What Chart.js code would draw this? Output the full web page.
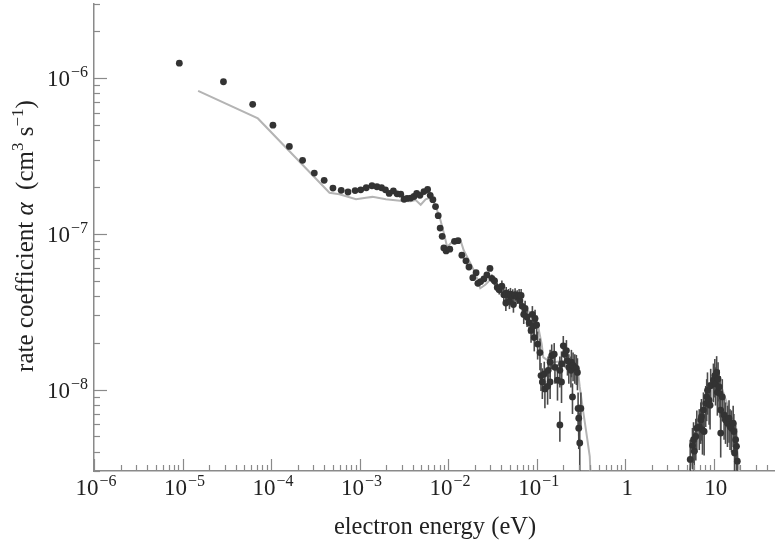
<!DOCTYPE html>
<html>
<head>
    <title>Rate coefficient vs electron energy</title>
    <script src="https://cdn.jsdelivr.net/npm/chart.js"></script>
    <style>
        body { margin: 0; background: #fff; }
    </style>
</head>
<body>
    <div style="width: 778px; height: 541px; position: relative;">
        <canvas id="myChart"></canvas>
    </div>
    <script>
        // measured points: electron energy (eV), rate coefficient (cm3 s-1), error
        const energy = [
            9.2e-6, 2.9e-5, 6.2e-5, 1.05e-4, 1.61e-4, 2.27e-4, 3.08e-4, 3.98e-4, 5.0e-4, 6.2e-4,
            7.4e-4, 8.9e-4, 1.03e-3, 1.19e-3, 1.38e-3, 1.57e-3, 1.77e-3, 1.96e-3, 2.16e-3, 2.41e-3,
            2.65e-3, 2.92e-3, 3.18e-3, 3.44e-3, 3.78e-3, 4.12e-3, 4.42e-3, 4.81e-3, 5.33e-3, 5.87e-3,
            6.28e-3, 6.73e-3, 7.21e-3, 7.73e-3, 8.13e-3, 8.57e-3, 8.95e-3, 9.5e-3, 1.045e-2, 1.18e-2,
            1.295e-2, 1.43e-2, 1.59e-2, 1.72e-2, 1.90e-2, 2.07e-2, 2.17e-2, 2.33e-2, 2.54e-2, 2.74e-2,
            2.97e-2, 3.12e-2, 3.35e-2, 3.59e-2, 3.78e-2, 4.05e-2, 4.26e-2, 4.49e-2, 4.53e-2, 4.81e-2,
            4.93e-2, 5.06e-2, 5.37e-2, 5.47e-2, 5.71e-2, 6.03e-2, 6.34e-2, 6.44e-2, 6.68e-2, 6.9e-2,
            7.15e-2, 7.41e-2, 7.8e-2, 8.22e-2, 8.65e-2, 8.95e-2, 9.18e-2, 9.4e-2, 9.6e-2, 0.100,
            0.1026, 0.109, 0.112, 0.116, 0.122, 0.124, 0.133, 0.135, 0.142, 0.142,
            0.148, 0.158, 0.161, 0.172, 0.183, 0.183, 0.191, 0.191, 0.200, 0.208,
            0.217, 0.223, 0.231, 0.244, 0.247, 0.254, 0.258, 0.270, 0.281, 0.289,
            0.294, 0.299, 0.299, 0.307, 0.316,
            5.43, 5.76, 5.92, 6.03, 6.28, 6.45, 6.87, 7.15, 7.28, 7.47,
            7.66, 7.80, 8.13, 8.34, 8.51, 8.87, 9.10, 9.25, 9.93, 10.3,
            10.5, 10.8, 11.0, 11.2, 11.5, 11.8, 12.0, 12.0, 12.5, 13.1,
            13.6, 14.3, 14.9, 15.3, 15.9, 16.6, 16.9, 17.2, 17.7, 18.1, 18.5
        ];
        const rate = [
            1.25e-6, 9.5e-7, 6.8e-7, 5.0e-7, 3.65e-7, 2.97e-7, 2.46e-7, 2.21e-7, 1.97e-7, 1.905e-7,
            1.86e-7, 1.9e-7, 1.92e-7, 1.98e-7, 2.04e-7, 2.01e-7, 1.98e-7, 1.92e-7, 1.82e-7, 1.89e-7,
            1.81e-7, 1.80e-7, 1.67e-7, 1.69e-7, 1.70e-7, 1.74e-7, 1.82e-7, 1.77e-7, 1.87e-7, 1.93e-7,
            1.77e-7, 1.66e-7, 1.50e-7, 1.31e-7, 1.09e-7, 9.65e-8, 8.13e-8, 7.78e-8, 7.98e-8, 8.96e-8,
            9.05e-8, 7.3e-8, 6.72e-8, 6.13e-8, 5.24e-8, 5.64e-8, 4.82e-8, 4.94e-8, 5.14e-8, 5.45e-8,
            6.0e-8, 5.19e-8, 4.99e-8, 4.53e-8, 4.38e-8, 4.62e-8, 4.07e-8, 3.6e-8, 4.17e-8, 4.03e-8,
            3.69e-8, 4.1e-8, 4.01e-8, 3.52e-8, 4.07e-8, 3.95e-8, 4.03e-8, 3.73e-8, 4.03e-8, 3.43e-8,
            3.04e-8, 3.32e-8, 2.92e-8, 2.69e-8, 2.4e-8, 3.04e-8, 2.56e-8, 2.16e-8, 2.86e-8, 2.6e-8,
            1.96e-8, 1.73e-8, 1.23e-8, 1.12e-8, 1.26e-8, 1.01e-8, 1.05e-8, 1.33e-8, 1.12e-8, 1.5e-8,
            1.65e-8, 1.69e-8, 1.39e-8, 1.15e-8, 1.33e-8, 5.93e-9, 1.46e-8, 1.12e-8, 1.91e-8, 1.69e-8,
            1.78e-8, 1.53e-8, 1.39e-8, 1.33e-8, 1.5e-8, 8.97e-9, 1.43e-8, 1.39e-8, 1.37e-8, 1.29e-8,
            7.57e-9, 6.55e-9, 5.65e-9, 4.54e-9, 7.57e-9,
            3.56e-9, 4.37e-9, 4.77e-9, 4.02e-9, 5.0e-9, 5.65e-9, 5.79e-9, 6.38e-9, 6.7e-9, 5.52e-9,
            7.39e-9, 5.38e-9, 8.15e-9, 8.97e-9, 9.9e-9, 8.55e-9, 7.94e-9, 1.06e-8, 1.15e-8, 1.23e-8,
            1.09e-8, 1.29e-8, 9.6e-9, 1.17e-8, 1.04e-8, 9.43e-9, 7.39e-9, 5.26e-9, 8.97e-9, 6.87e-9,
            6.38e-9, 6.08e-9, 6.55e-9, 5.79e-9, 5.65e-9, 6.08e-9, 5.38e-9, 3.92e-9, 4.77e-9, 4.32e-9, 3.47e-9
        ];
        const rateErr = [
            0, 0, 0, 0, 0, 0, 0, 0, 0, 0,
            0, 0, 0, 0, 0, 0, 0, 0, 0, 0,
            0, 0, 0, 0, 0, 0, 0, 0, 0, 0,
            0, 0, 0, 0, 0, 0, 0, 0, 0, 0,
            0, 0, 0, 1.5e-9, 2e-9, 2e-9, 2e-9, 2e-9, 2e-9, 2e-9,
            2e-9, 3e-9, 3e-9, 3e-9, 3e-9, 4e-9, 4e-9, 4e-9, 4e-9, 4e-9,
            4e-9, 4e-9, 4e-9, 4e-9, 4e-9, 4e-9, 4e-9, 4e-9, 4e-9, 4e-9,
            4e-9, 4e-9, 4e-9, 4e-9, 4e-9, 4e-9, 4e-9, 4e-9, 4e-9, 4e-9,
            4e-9, 4e-9, 2.5e-9, 2.5e-9, 2.5e-9, 2.5e-9, 2.5e-9, 3e-9, 2.5e-9, 3e-9,
            3e-9, 3e-9, 3e-9, 3e-9, 3e-9, 1.3e-9, 3e-9, 3e-9, 3e-9, 3e-9,
            3e-9, 3e-9, 3e-9, 3e-9, 3e-9, 2e-9, 3e-9, 3e-9, 3e-9, 3e-9,
            2e-9, 1.5e-9, 1.5e-9, 2.5e-9, 2e-9,
            1.2e-9, 1.3e-9, 1.4e-9, 1.3e-9, 1.5e-9, 1.7e-9, 1.7e-9, 1.9e-9, 2e-9, 1.7e-9,
            2.2e-9, 1.6e-9, 2.4e-9, 2.7e-9, 3e-9, 2.6e-9, 2.4e-9, 3e-9, 3.2e-9, 3.4e-9,
            3e-9, 3.5e-9, 2.8e-9, 3.3e-9, 3e-9, 2.8e-9, 2.2e-9, 1.6e-9, 2.7e-9, 2.1e-9,
            1.9e-9, 1.8e-9, 2e-9, 1.7e-9, 1.7e-9, 1.8e-9, 1.6e-9, 1.2e-9, 1.4e-9, 1.3e-9, 1.1e-9
        ];

        // calculated curve (grey), two separate branches
        const modelLowEnergy = [
            1.5e-5, 7.1e-5, 4.57e-4, 5.92e-4, 9.12e-4, 1.18e-3, 1.40e-3, 1.98e-3, 3.04e-3, 3.78e-3,
            4.30e-3, 4.90e-3, 5.57e-3, 6.34e-3, 7.21e-3, 8.22e-3, 9.18e-3, 9.75e-3, 1.16e-2, 1.38e-2,
            1.50e-2, 1.79e-2, 2.03e-2, 2.31e-2, 2.63e-2, 2.99e-2, 3.26e-2, 3.88e-2, 4.81e-2, 6.22e-2,
            7.73e-2, 9.18e-2, 0.1045, 0.114, 0.119, 0.146, 0.200, 0.258, 0.294, 0.307,
            0.334, 0.365, 0.398, 0.410
        ];
        const modelLowRate = [
            8.3e-7, 5.52e-7, 1.84e-7, 1.80e-7, 1.67e-7, 1.71e-7, 1.73e-7, 1.67e-7, 1.63e-7, 1.62e-7,
            1.65e-7, 1.54e-7, 1.67e-7, 1.71e-7, 1.52e-7, 1.22e-7, 9.55e-8, 8.24e-8, 9.1e-8, 9.1e-8,
            7.85e-8, 6.46e-8, 5.58e-8, 4.48e-8, 4.71e-8, 5.07e-8, 4.82e-8, 4.27e-8, 3.97e-8, 3.69e-8,
            3.27e-8, 2.96e-8, 2.5e-8, 1.96e-8, 1.61e-8, 1.49e-8, 1.53e-8, 1.43e-8, 1.29e-8, 1.04e-8,
            7.39e-9, 5.26e-9, 3.73e-9, 2.5e-9
        ];
        const modelHighEnergy = [5.2, 6.6, 8.5, 10.2, 11.5, 14.3, 17.7, 19.8];
        const modelHighRate = [2.8e-9, 5.1e-9, 9.2e-9, 1.23e-8, 1.15e-8, 8.0e-9, 4.8e-9, 2.8e-9];

        // axis labels
        const xTickValues = [1e-6, 1e-5, 1e-4, 1e-3, 1e-2, 1e-1, 1, 10];
        const xTickBase = ['10', '10', '10', '10', '10', '10', '1', '10'];
        const xTickExp = ['\u22126', '\u22125', '\u22124', '\u22123', '\u22122', '\u22121', '', ''];
        const yTickValues = [1e-8, 1e-7, 1e-6];
        const yTickBase = ['10', '10', '10'];
        const yTickExp = ['\u22128', '\u22127', '\u22126'];

        const FONT = '"Liberation Serif", "Times New Roman", serif';
        const AXIS_COLOR = '#8a8a8a';
        const TEXT_COLOR = '#222';

        const points = energy.map((e, i) => ({ x: e, y: rate[i] }));
        const modelLow = modelLowEnergy.map((e, i) => ({ x: e, y: modelLowRate[i] }));
        const modelHigh = modelHighEnergy.map((e, i) => ({ x: e, y: modelHighRate[i] }));

        function drawPower(ctx, base, exp, x, y, align) {
            ctx.font = '23px ' + FONT;
            const wb = ctx.measureText(base).width;
            ctx.font = '16px ' + FONT;
            const we = exp ? ctx.measureText(exp).width + 1 : 0;
            const total = wb + we;
            let x0 = align === 'right' ? x - total : x - total / 2;
            ctx.textAlign = 'left';
            ctx.textBaseline = 'alphabetic';
            ctx.font = '23px ' + FONT;
            ctx.fillText(base, x0, y);
            if (exp) {
                ctx.font = '16px ' + FONT;
                ctx.fillText(exp, x0 + wb + 1, y - 9);
            }
        }

        const errorBars = {
            id: 'errorBars',
            beforeDatasetDraw(chart, args) {
                if (args.index !== 0) return;
                const { ctx, chartArea: a, scales: { x, y } } = chart;
                ctx.save();
                ctx.beginPath();
                ctx.rect(a.left, a.top, a.right - a.left, a.bottom - a.top);
                ctx.clip();
                ctx.strokeStyle = '#4a4a4a';
                ctx.lineWidth = 1.6;
                energy.forEach((e, i) => {
                    if (!rateErr[i]) return;
                    const px = x.getPixelForValue(e);
                    const lo = Math.max(rate[i] - rateErr[i], 1e-10);
                    const y1 = y.getPixelForValue(rate[i] + rateErr[i]);
                    const y2 = y.getPixelForValue(lo);
                    ctx.beginPath();
                    ctx.moveTo(px, y1);
                    ctx.lineTo(px, y2);
                    ctx.stroke();
                });
                ctx.restore();
            }
        };

        const axisDecor = {
            id: 'axisDecor',
            afterDraw(chart) {
                const { ctx, chartArea: a, scales: { x, y } } = chart;
                ctx.save();
                ctx.strokeStyle = AXIS_COLOR;
                ctx.lineWidth = 1.2;
                // inward ticks on x
                for (let d = -6; d <= 1; d++) {
                    for (let m = 1; m <= 9; m++) {
                        const v = m * Math.pow(10, d);
                        if (v > x.max) break;
                        const px = Math.round(x.getPixelForValue(v)) + 0.5;
                        const len = m === 1 ? 12 : 6;
                        ctx.beginPath();
                        ctx.moveTo(px, a.bottom);
                        ctx.lineTo(px, a.bottom - len);
                        ctx.stroke();
                    }
                }
                // inward ticks on y
                for (let d = -9; d <= -6; d++) {
                    for (let m = 1; m <= 9; m++) {
                        const v = m * Math.pow(10, d);
                        if (v < y.min * 0.999 || v > y.max * 1.001) continue;
                        const py = Math.round(y.getPixelForValue(v)) + 0.5;
                        const len = m === 1 ? 13 : 6;
                        ctx.beginPath();
                        ctx.moveTo(a.left, py);
                        ctx.lineTo(a.left + len, py);
                        ctx.stroke();
                    }
                }
                ctx.fillStyle = TEXT_COLOR;
                xTickValues.forEach((v, i) => {
                    drawPower(ctx, xTickBase[i], xTickExp[i], x.getPixelForValue(v) + 2, a.bottom + 24, 'center');
                });
                yTickValues.forEach((v, i) => {
                    drawPower(ctx, yTickBase[i], yTickExp[i], a.left - 6, y.getPixelForValue(v) + 8, 'right');
                });

                // x title
                ctx.font = '24.5px ' + FONT;
                ctx.textAlign = 'center';
                ctx.textBaseline = 'alphabetic';
                ctx.fillText('electron energy (eV)', 435, 534);

                // y title, rotated
                const parts = [
                    ['rate coefficient ', 'normal', 0],
                    ['\u03b1', 'italic', 0],
                    ['  (cm', 'normal', 0],
                    ['3', 'sup', 10],
                    [' s', 'normal', 0],
                    ['\u22121', 'sup', 10],
                    [')', 'normal', 0]
                ];
                const fontOf = p => p[1] === 'sup' ? '17px ' + FONT : (p[1] === 'italic' ? 'italic 25px ' + FONT : '25px ' + FONT);
                let total = 0;
                parts.forEach(p => { ctx.font = fontOf(p); total += ctx.measureText(p[0]).width; });
                ctx.translate(33, 236);
                ctx.rotate(-Math.PI / 2);
                ctx.textAlign = 'left';
                let cx = -total / 2;
                parts.forEach(p => {
                    ctx.font = fontOf(p);
                    ctx.fillText(p[0], cx, -p[2]);
                    cx += ctx.measureText(p[0]).width;
                });
                ctx.restore();
            }
        };

        const ctx = document.getElementById('myChart').getContext('2d');
        const myChart = new Chart(ctx, {
            type: 'scatter',
            data: {
                datasets: [{
                    label: 'measured',
                    data: points,
                    backgroundColor: '#333333',
                    borderWidth: 0,
                    pointRadius: 3.4,
                    showLine: false
                }, {
                    label: 'calculated',
                    data: modelLow,
                    showLine: true,
                    borderColor: '#b4b4b4',
                    borderWidth: 2,
                    pointRadius: 0,
                    tension: 0
                }, {
                    label: 'calculated (high)',
                    data: modelHigh,
                    showLine: true,
                    borderColor: '#b4b4b4',
                    borderWidth: 2,
                    pointRadius: 0,
                    tension: 0
                }]
            },
            options: {
                responsive: true,
                maintainAspectRatio: false,
                animation: false,
                layout: { padding: 0 },
                plugins: {
                    legend: { display: false },
                    tooltip: { enabled: false }
                },
                scales: {
                    x: {
                        type: 'logarithmic',
                        position: 'bottom',
                        min: 1e-6,
                        max: 48,
                        bounds: 'data',
                        grid: { display: false, drawTicks: false },
                        border: { display: true, color: AXIS_COLOR, width: 1.5 },
                        ticks: { display: false },
                        afterFit: s => { s.height = 70; }
                    },
                    y: {
                        type: 'logarithmic',
                        min: 3e-9,
                        max: 3e-6,
                        bounds: 'data',
                        grid: { display: false, drawTicks: false },
                        border: { display: true, color: AXIS_COLOR, width: 1.5 },
                        ticks: { display: false },
                        afterFit: s => { s.width = 94; }
                    }
                }
            },
            plugins: [errorBars, axisDecor]
        });
    </script>
</body>
</html>
